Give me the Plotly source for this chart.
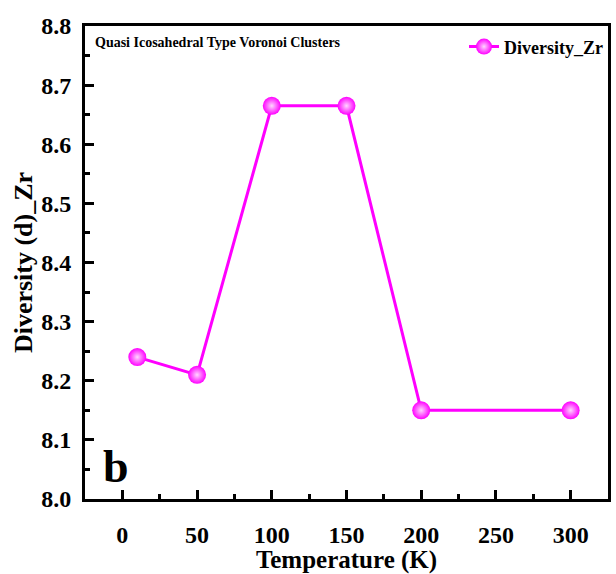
import plotly.graph_objects as go

temperature = [10, 50, 100, 150, 200, 300]
diversity_zr = [8.24, 8.21, 8.665, 8.665, 8.15, 8.15]
x_ticks = [0, 50, 100, 150, 200, 250, 300]
y_ticks = [8.0, 8.1, 8.2, 8.3, 8.4, 8.5, 8.6, 8.7, 8.8]

FONT = "Liberation Serif"
MAG = "#FF00FF"

fig = go.Figure()
fig.add_trace(go.Scatter(
    x=temperature, y=diversity_zr, mode="lines+markers", name="<b>Diversity_Zr</b>",
    line=dict(color=MAG, width=3),
    marker=dict(size=18, color=MAG, gradient=dict(type="radial", color="#FFD6FF"),
                line=dict(width=0)),
))

axis_common = dict(
    showline=True, linecolor="black", linewidth=3, mirror=True,
    ticks="inside", ticklen=9, tickwidth=3, tickcolor="black",
    showgrid=False, zeroline=False,
    tickfont=dict(family=FONT, size=24, color="black"),
)

fig.update_xaxes(
    range=[-25, 325], tickvals=x_ticks, ticktext=[f"<b>{v}</b>" for v in x_ticks],
    minor=dict(ticks="inside", ticklen=5, tickwidth=3, tickcolor="black", dtick=25, tick0=0),
    title=dict(text="<b>Temperature (K)</b>", font=dict(family=FONT, size=25, color="black"), standoff=4),
    ticklabelstandoff=12,
    **axis_common,
)
fig.update_yaxes(
    range=[8.0, 8.8], tickvals=y_ticks, ticktext=[f"<b>{v:.1f}</b>" for v in y_ticks],
    minor=dict(ticks="inside", ticklen=5, tickwidth=3, tickcolor="black", dtick=0.05, tick0=8.0),
    title=dict(text="<b>Diversity (d)_Zr</b>", font=dict(family=FONT, size=26, color="black"), standoff=2),
    ticklabelstandoff=6,
    **axis_common,
)

fig.update_layout(
    width=616, height=574,
    margin=dict(l=85, r=5, t=26, b=75),
    paper_bgcolor="white", plot_bgcolor="white",
    font=dict(family=FONT, color="black"),
    showlegend=True,
    legend=dict(x=1, y=0.995, xanchor="right", yanchor="top", bgcolor="rgba(0,0,0,0)",
                font=dict(family=FONT, size=18, color="black"), itemwidth=30),
    annotations=[
        dict(text="<b>Quasi Icosahedral Type Voronoi Clusters</b>", xref="paper", yref="paper",
             x=0.015, y=0.985, xanchor="left", yanchor="top", showarrow=False,
             font=dict(family=FONT, size=14, color="black")),
        dict(text="<b>b</b>", xref="paper", yref="paper", x=0.03, y=0.01,
             xanchor="left", yanchor="bottom", showarrow=False,
             font=dict(family=FONT, size=46, color="black")),
    ],
)

fig.write_html("out.html", config={"displayModeBar": False},
               post_script="document.body.style.margin='0';")
